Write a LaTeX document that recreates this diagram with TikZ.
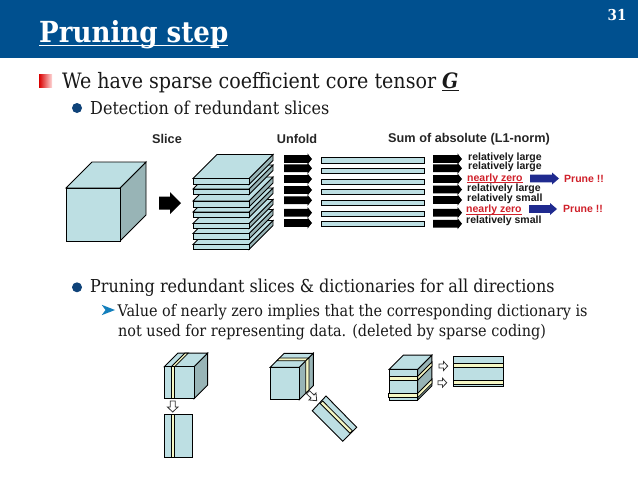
\documentclass[tikz,border=0pt]{standalone}
\usepackage{fontspec}
\setsansfont{Liberation Sans}
\setmainfont{DejaVu Serif Condensed}
\usetikzlibrary{calc}
\definecolor{hdr}{HTML}{00508F}
\definecolor{ball}{HTML}{0F4379}
\definecolor{face}{HTML}{BDDFE3}
\definecolor{sidec}{HTML}{98B4B6}
\definecolor{stripe}{HTML}{F5F7C4}
\definecolor{prune}{HTML}{D0202A}
\definecolor{navy}{HTML}{1F2A8F}
\newcommand{\fsz}[1]{\fontsize{#1}{#1}\selectfont}
% block arrow: [opts], x1, x2, y, half body, half head, head length, colour
\newcommand{\blockarrow}[8][]{%
 \path[fill=#8,#1] (#2,#4-#5) -- (#3-#7,#4-#5) -- (#3-#7,#4-#6) -- (#3,#4) -- (#3-#7,#4+#6) -- (#3-#7,#4+#5) -- (#2,#4+#5) -- cycle;}
% slab: top, bottom
\newcommand{\slab}[2]{%
 \draw[cubeline,fill=sidec] (249,#1) -- (273,#1-24) -- (273,#2-24) -- (249,#2) -- cycle;
 \draw[cubeline,fill=face] (193,#1) -- (217,#1-24) -- (273,#1-24) -- (249,#1) -- cycle;
 \draw[cubeline,fill=face] (193,#1) rectangle (249,#2);}
\newcommand{\cube}[5]{% x1 y1 x2 y2 off
 \draw[cubeline,fill=sidec] (#3,#2) -- (#3+#5,#2-#5) -- (#3+#5,#4-#5) -- (#3,#4) -- cycle;
 \draw[cubeline,fill=face] (#1,#2) -- (#1+#5,#2-#5) -- (#3+#5,#2-#5) -- (#3,#2) -- cycle;
 \draw[cubeline,fill=face] (#1,#2) rectangle (#3,#4);}
\tikzset{
 cubeline/.style={draw=black,line width=0.9pt,line join=miter},
 band/.style={draw=black,line width=0.8pt,fill=stripe},
 bar/.style={draw=black,line width=0.9pt,fill=face},
 serif1/.style={anchor=base west,inner sep=0pt,text=black!90,font=\rmfamily\fsz{21.2}},
 serif2/.style={anchor=base west,inner sep=0pt,text=black!90,font=\rmfamily\fsz{17.8}},
 serif3/.style={anchor=base west,inner sep=0pt,text=black!90,font=\rmfamily\fsz{16}},
 head/.style={anchor=center,inner sep=0pt,font=\sffamily\bfseries\fsz{12.7},text=black!85},
 val/.style={anchor=west,inner sep=0pt,font=\sffamily\bfseries\fsz{10.5},text=black!90},
 zero/.style={anchor=west,inner sep=0pt,font=\sffamily\bfseries\fsz{10.5},text=prune},
 prn/.style={anchor=west,inner sep=0pt,font=\sffamily\bfseries\fsz{10.5},text=prune},
 whitearrow/.style={draw=black!80,line width=0.8pt,fill=white},
 zeroline/.style={draw=prune,line width=0.7pt},
}
\begin{document}
\begin{tikzpicture}[x=1pt,y=-1pt]
\useasboundingbox (0,0) rectangle (638,479);
\fill[white] (0,0) rectangle (638,479);
\fill[hdr] (0,0) rectangle (638,58);
\node[anchor=base west,inner sep=0pt,text=white,font=\rmfamily\bfseries\fsz{29}] (title) at (39,42) {Pruning step};
\draw[white,line width=1.2pt] ([yshift=-3.5pt]title.base west) -- ([yshift=-3.5pt]title.base east);
\node[anchor=center,inner sep=0pt,text=white,font=\rmfamily\bfseries\fsz{15}] (pnum) at (617,15) {31};
% bullets
\shade[left color=red!85!black,right color=red!15] (39,74) rectangle (52,87);
\fill[ball] (77,108) circle (5);
\node[serif1] (l1) at (62,88) {We have sparse coefficient core tensor \textbf{\textit{\underline{G}}}};
\node[serif2] (l2) at (90,114) {Detection of redundant slices};
\fill[ball] (77,287.3) circle (5);
\node[serif2] (l3) at (90,292.7) {Pruning redundant slices \& dictionaries for all directions};
\path[fill=navy!60!cyan] (101.7,304.8) -- (115,310) -- (101.7,315.2) -- (105.5,310) -- cycle;
\node[serif3] (l4) at (117.5,316) {Value of nearly zero implies that the corresponding dictionary is};
\node[serif3] (l5) at (118,336) {not used for representing data. (deleted by sparse coding)};
% headings
\node[head] (hslice) at (167,139) {Slice};
\node[head] (hunfold) at (297,139) {Unfold};
\node[head] (hsum) at (469,139) {Sum of absolute (L1-norm)};
% big cube
\cube{66}{188}{120}{241}{26}
\blockarrow{159}{181}{203}{6.5}{11}{11}{black}
% slabs bottom to top
\slab{244.5}{249.5}\slab{233.5}{239}\slab{223.5}{228.5}\slab{212}{217.5}\slab{201}{207}\slab{189}{194.5}\slab{178.5}{184.5}
% unfold arrows and bars
\foreach \y in {159,168.3,179,190,200.3,212.7,223}{\blockarrow{284}{312}{\y}{3.9}{5.6}{4.5}{black}}
\foreach \a/\b in {157.3/163.3,168.3/173.3,179.3/184.3,189.7/194.7,200.3/205.3,211/216,221.3/226.3}{\draw[bar] (321.3,\a) rectangle (424.7,\b);}
\foreach \y in {159,168.3,179,189.5,200,212.7,223.7}{\blockarrow{433}{462}{\y}{3.9}{5.6}{4.5}{black}}
% values
\node[val] (v1) at (468,157.7) {relatively large};
\node[val] (v2) at (468,167.3) {relatively large};
\node[zero] (v3) at (467,178.3) {nearly zero};
\draw[zeroline] ([yshift=-1.6pt]v3.base west) -- ([yshift=-1.6pt]v3.base east);
\node[val] (v4) at (467,189) {relatively large};
\node[val] (v5) at (467,199) {relatively small};
\node[zero] (v6) at (466,210) {nearly zero};
\draw[zeroline] ([yshift=-1.6pt]v6.base west) -- ([yshift=-1.6pt]v6.base east);
\node[val] (v7) at (466,221) {relatively small};
\blockarrow{530}{559}{178.5}{3.8}{6}{7}{navy}
\blockarrow{529}{557}{209}{3.8}{6}{7}{navy}
\node[prn] (p1) at (564,178.5) {Prune !!};
\node[prn] (p2) at (563,209) {Prune !!};
% small cube 1
\cube{164.3}{366.7}{194}{398.7}{13.6}
\draw[band] (171.3,366.7) -- (184.9,353.1) -- (188.3,353.1) -- (174.7,366.7) -- cycle;
\draw[band] (171.3,366.7) rectangle (174.7,398.7);
\path[whitearrow] (170.2,401) -- (175.2,401) -- (175.2,407) -- (178,407) -- (172.7,412) -- (167.4,407) -- (170.2,407) -- cycle;
\draw[cubeline,fill=face] (164.3,414.3) rectangle (192.7,457.3);
\draw[band] (171.3,414.3) rectangle (174.7,457.3);
% small cube 2
\cube{270.3}{367.3}{299.3}{399.7}{14}
\draw[band] (276.8,360.8) -- (306,360.8) -- (308.6,358) -- (279.6,358) -- cycle;
\draw[band] (305.7,393.3) -- (305.7,360.8) -- (309,357.6) -- (309,390) -- cycle;
\path[whitearrow] (309.5,390.7) -- (314,395) -- (316,393) -- (316.7,400.7) -- (309,400) -- (311,398) -- (306.5,393.7) -- cycle;
\draw[cubeline,fill=face] (326,396) -- (356.7,427.3) -- (342.7,441.3) -- (312.3,410.7) -- cycle;
\draw[band] (320,403.3) -- (322.7,401) -- (352.3,430.7) -- (350,433.3) -- cycle;
% small cube 3
\cube{389.3}{369.3}{417.7}{400}{14.2}
\draw[band] (417.7,376.3) -- (431.9,362.1) -- (431.9,366.1) -- (417.7,380.3) -- cycle;
\draw[band] (417.7,393.3) -- (431.9,379.1) -- (431.9,383.5) -- (417.7,397.7) -- cycle;
\draw[band] (389.3,376.3) rectangle (417.7,380.3);
\draw[band] (388.3,393.3) rectangle (417.7,397.7);
\path[whitearrow] (439,364) -- (443.5,364) -- (443.5,361.5) -- (447.7,366) -- (443.5,370.5) -- (443.5,368) -- (439,368) -- cycle;
\path[whitearrow] (438,380.7) -- (442.5,380.7) -- (442.5,378.2) -- (446.7,382.7) -- (442.5,387.2) -- (442.5,384.7) -- (438,384.7) -- cycle;
\draw[cubeline,fill=face] (453.3,356.7) rectangle (503.3,386.3);
\draw[band] (453.3,363.3) rectangle (503.3,367);
\draw[band] (453.3,380.3) rectangle (503.3,384.3);
\end{tikzpicture}
\end{document}
